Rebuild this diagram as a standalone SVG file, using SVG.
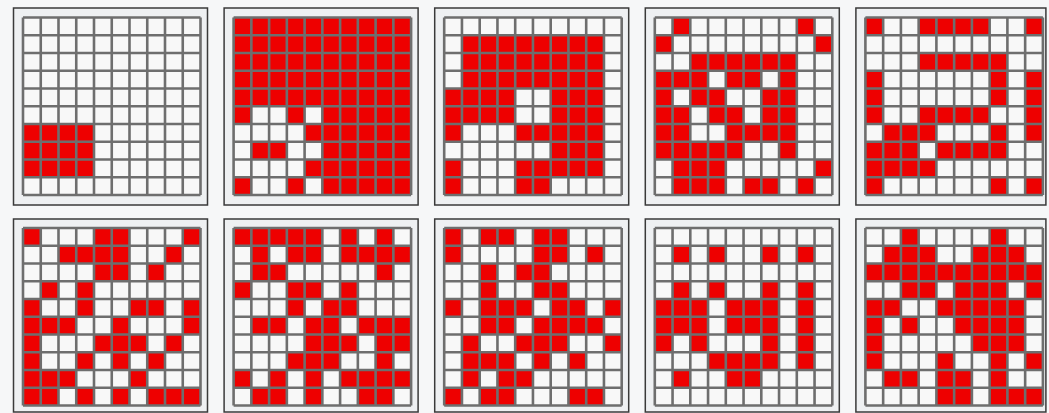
<svg xmlns="http://www.w3.org/2000/svg" xmlns:xlink="http://www.w3.org/1999/xlink" width="1049" height="413" viewBox="0 0 1049 413">
<style>
.frame{fill:#eef0f2;stroke:#3a3a3a;stroke-width:1.5}
.bg{fill:#f8f8f8}
.red{fill:#ee0000}
.grid{fill:none;stroke:#6e6e6e;stroke-width:2.6}
</style>
<defs>
<path id="grid" class="grid" d="M0 0V177.5M17.75 0V177.5M35.5 0V177.5M53.25 0V177.5M71 0V177.5M88.75 0V177.5M106.5 0V177.5M124.25 0V177.5M142 0V177.5M159.75 0V177.5M177.5 0V177.5M0 0H177.5M0 17.75H177.5M0 35.5H177.5M0 53.25H177.5M0 71H177.5M0 88.75H177.5M0 106.5H177.5M0 124.25H177.5M0 142H177.5M0 159.75H177.5M0 177.5H177.5"/>
</defs>
<rect width="1049" height="413" fill="#f6f7f8"/>
<g id="connectors"></g>

<g id="panel-1" transform="translate(13.5,8)">
<rect class="frame" width="194" height="197"/><rect class="bg" x="9.5" y="9.5" width="177.5" height="177.5"/>
<path class="red" transform="translate(9.5 9.5) scale(17.75)" d="M0 6h4v3h-4z"/>
<use href="#grid" x="9.5" y="9.5"/>
</g>

<g id="panel-2" transform="translate(224.1,8)">
<rect class="frame" width="194" height="197"/><rect class="bg" x="9.5" y="9.5" width="177.5" height="177.5"/>
<path class="red" transform="translate(9.5 9.5) scale(17.75)" d="M0 0h10v5h-10zM5 5h5v5h-5zM0 5h1v1h-1zM3 5h1v1h-1zM4 6h1v1h-1zM1 7h2v1h-2zM4 8h1v1h-1zM0 9h1v1h-1zM3 9h1v1h-1z"/>
<use href="#grid" x="9.5" y="9.5"/>
</g>

<g id="panel-3" transform="translate(434.7,8)">
<rect class="frame" width="194" height="197"/><rect class="bg" x="9.5" y="9.5" width="177.5" height="177.5"/>
<path class="red" transform="translate(9.5 9.5) scale(17.75)" d="M1 1h8v3h-8zM6 4h3v5h-3zM0 4h4v2h-4zM0 6h1v1h-1zM4 6h2v1h-2zM0 8h1v2h-1zM4 8h2v2h-2z"/>
<use href="#grid" x="9.5" y="9.5"/>
</g>

<g id="panel-4" transform="translate(645.3,8)">
<rect class="frame" width="194" height="197"/><rect class="bg" x="9.5" y="9.5" width="177.5" height="177.5"/>
<path class="red" transform="translate(9.5 9.5) scale(17.75)" d="M1 0h1v1h-1zM8 0h1v1h-1zM0 1h1v1h-1zM9 1h1v1h-1zM2 2h6v1h-6zM0 3h3v1h-3zM4 3h2v1h-2zM7 3h1v1h-1zM0 4h1v1h-1zM2 4h2v1h-2zM6 4h2v1h-2zM0 5h2v1h-2zM3 5h2v1h-2zM6 5h2v1h-2zM0 6h2v1h-2zM4 6h4v1h-4zM0 7h5v1h-5zM7 7h1v1h-1zM1 8h3v1h-3zM9 8h1v1h-1zM1 9h3v1h-3zM5 9h2v1h-2zM8 9h1v1h-1z"/>
<use href="#grid" x="9.5" y="9.5"/>
</g>

<g id="panel-5" transform="translate(855.9,8)">
<rect class="frame" width="190" height="197"/><rect class="bg" x="9.5" y="9.5" width="177.5" height="177.5"/>
<path class="red" transform="translate(9.5 9.5) scale(17.75)" d="M0 0h1v1h-1zM3 0h4v1h-4zM9 0h1v1h-1zM3 2h5v1h-5zM0 3h1v2h-1zM7 3h1v2h-1zM9 3h1v2h-1zM0 5h1v1h-1zM3 5h4v1h-4zM9 5h1v1h-1zM1 6h3v1h-3zM7 6h1v1h-1zM9 6h1v1h-1zM0 7h3v1h-3zM4 7h4v1h-4zM0 8h4v1h-4zM0 9h1v1h-1zM7 9h1v1h-1zM9 9h1v1h-1z"/>
<use href="#grid" x="9.5" y="9.5"/>
</g>

<g id="panel-6" transform="translate(13.5,219)">
<rect class="frame" width="194" height="193"/><rect class="bg" x="9.5" y="9" width="177.5" height="177.5"/>
<path class="red" transform="translate(9.5 9) scale(17.75)" d="M0 0h1v1h-1zM4 0h2v1h-2zM9 0h1v1h-1zM2 1h4v1h-4zM8 1h1v1h-1zM4 2h2v1h-2zM7 2h1v1h-1zM1 3h1v1h-1zM3 3h1v1h-1zM0 4h1v1h-1zM3 4h1v1h-1zM6 4h2v1h-2zM9 4h1v1h-1zM0 5h3v1h-3zM5 5h1v1h-1zM9 5h1v1h-1zM0 6h1v1h-1zM4 6h3v1h-3zM8 6h1v1h-1zM0 7h1v1h-1zM3 7h1v1h-1zM5 7h1v1h-1zM7 7h1v1h-1zM0 8h3v1h-3zM6 8h1v1h-1zM0 9h2v1h-2zM3 9h1v1h-1zM5 9h1v1h-1zM7 9h3v1h-3z"/>
<use href="#grid" x="9.5" y="9"/>
</g>

<g id="panel-7" transform="translate(224.1,219)">
<rect class="frame" width="194" height="193"/><rect class="bg" x="9.5" y="9" width="177.5" height="177.5"/>
<path class="red" transform="translate(9.5 9) scale(17.75)" d="M0 0h5v1h-5zM6 0h1v1h-1zM8 0h1v1h-1zM1 1h1v1h-1zM3 1h2v1h-2zM6 1h4v1h-4zM1 2h2v1h-2zM8 2h1v1h-1zM0 3h1v1h-1zM3 3h2v1h-2zM6 3h1v1h-1zM3 4h1v1h-1zM5 4h2v1h-2zM1 5h2v1h-2zM4 5h2v1h-2zM7 5h3v1h-3zM4 6h3v1h-3zM8 6h2v1h-2zM3 7h3v1h-3zM8 7h1v1h-1zM0 8h1v1h-1zM2 8h1v1h-1zM4 8h1v1h-1zM6 8h4v1h-4zM1 9h2v1h-2zM4 9h1v1h-1zM7 9h2v1h-2z"/>
<use href="#grid" x="9.5" y="9"/>
</g>

<g id="panel-8" transform="translate(434.7,219)">
<rect class="frame" width="194" height="193"/><rect class="bg" x="9.5" y="9" width="177.5" height="177.5"/>
<path class="red" transform="translate(9.5 9) scale(17.75)" d="M0 0h1v1h-1zM2 0h2v1h-2zM5 0h2v1h-2zM0 1h1v1h-1zM5 1h2v1h-2zM8 1h1v1h-1zM2 2h1v1h-1zM4 2h2v1h-2zM2 3h1v1h-1zM5 3h2v1h-2zM0 4h1v1h-1zM2 4h3v1h-3zM6 4h2v1h-2zM9 4h1v1h-1zM2 5h2v1h-2zM5 5h4v1h-4zM1 6h1v1h-1zM4 6h3v1h-3zM9 6h1v1h-1zM1 7h3v1h-3zM5 7h1v1h-1zM7 7h1v1h-1zM1 8h1v1h-1zM3 8h2v1h-2zM0 9h1v1h-1zM2 9h2v1h-2zM7 9h2v1h-2z"/>
<use href="#grid" x="9.5" y="9"/>
</g>

<g id="panel-9" transform="translate(645.3,219)">
<rect class="frame" width="194" height="193"/><rect class="bg" x="9.5" y="9" width="177.5" height="177.5"/>
<path class="red" transform="translate(9.5 9) scale(17.75)" d="M1 1h1v1h-1zM3 1h1v1h-1zM6 1h1v1h-1zM8 1h1v1h-1zM1 3h1v1h-1zM3 3h1v1h-1zM6 3h1v1h-1zM8 3h1v1h-1zM0 4h3v2h-3zM4 4h3v2h-3zM8 4h1v2h-1zM0 6h1v1h-1zM2 6h1v1h-1zM6 6h1v1h-1zM8 6h1v1h-1zM3 7h4v1h-4zM8 7h1v1h-1zM1 8h1v1h-1zM4 8h2v1h-2z"/>
<use href="#grid" x="9.5" y="9"/>
</g>

<g id="panel-10" transform="translate(855.9,219)">
<rect class="frame" width="190" height="193"/><rect class="bg" x="9.5" y="9" width="177.5" height="177.5"/>
<path class="red" transform="translate(9.5 9) scale(17.75)" d="M2 0h1v1h-1zM7 0h1v1h-1zM1 1h3v1h-3zM6 1h3v1h-3zM0 2h10v1h-10zM2 3h2v1h-2zM5 3h3v1h-3zM9 3h1v1h-1zM0 4h2v1h-2zM4 4h5v1h-5zM0 5h1v1h-1zM2 5h1v1h-1zM5 5h4v1h-4zM0 6h1v1h-1zM6 6h3v1h-3zM0 7h1v1h-1zM4 7h1v1h-1zM7 7h1v1h-1zM9 7h1v1h-1zM1 8h2v1h-2zM4 8h2v1h-2zM7 8h1v1h-1zM4 9h2v1h-2zM7 9h3v1h-3z"/>
<use href="#grid" x="9.5" y="9"/>
</g>
</svg>
